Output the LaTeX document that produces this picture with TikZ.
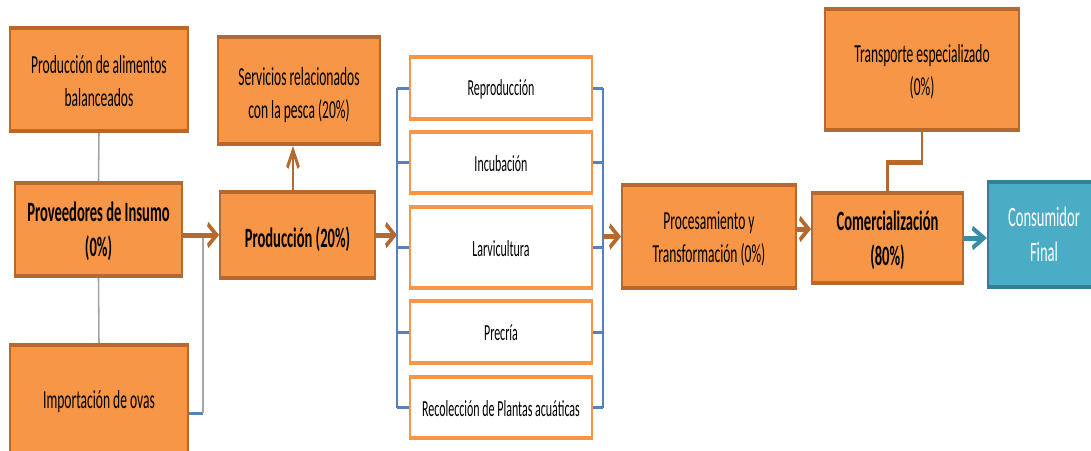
\documentclass[tikz,border=0pt]{standalone}
\usepackage{fontspec}
\setmainfont{Carlito}
\usetikzlibrary{arrows.meta,fit}

\definecolor{boxfill}{HTML}{F79646}
\definecolor{boxedge}{HTML}{B5692F}
\definecolor{tealfill}{HTML}{4BACC6}
\definecolor{tealedge}{HTML}{357F95}
\definecolor{tealline}{HTML}{3A8DA6}
\definecolor{bracketblue}{HTML}{5581BE}
\definecolor{linegray}{HTML}{A6A6A6}

\tikzset{
  % box shapes
  obox/.style={draw=boxedge, fill=boxfill, line width=4pt, inner sep=0pt},
  wbox/.style={draw=boxfill, fill=white, line width=4pt, inner sep=0pt},
  tbox/.style={draw=tealedge, fill=tealfill, line width=4pt, inner sep=0pt},
  % box captions
  otext/.style={align=center, text=black, inner sep=0pt, yshift=-2pt,
    font=\fontsize{26}{33}\selectfont},
  obtext/.style={align=center, text=black, inner sep=0pt, yshift=-2pt,
    font=\fontsize{28}{35}\selectfont\bfseries},
  wtext/.style={align=center, text=black, inner sep=0pt, yshift=-1pt,
    font=\fontsize{23}{29}\selectfont},
  ttext/.style={align=center, text=white, inner sep=0pt,
    font=\fontsize{28}{35}\selectfont},
  % connectors
  barrow/.style={draw=boxedge, line width=5pt,
    -{Straight Barb[length=17pt, width=22pt]}},
  brownline/.style={draw=boxedge, line width=5pt},
  tarrow/.style={draw=tealline, line width=5pt,
    -{Straight Barb[length=22pt, width=20pt]}},
  grayline/.style={draw=linegray, line width=3pt},
  blueline/.style={draw=bracketblue, line width=3pt},
}

\begin{document}
\begin{tikzpicture}[x=1pt, y=-1pt]
\useasboundingbox[fill=white] (0,0) rectangle (1091,450);
% the whole chart is drawn at double width and condensed horizontally
\begin{scope}[overlay, transform canvas={xscale=0.52}, x=1.923077pt]

  % supplier column
  \node[obox, fit={(10,28) (188,131)}] (alim) {};
  \node[obox, fit={(15,183) (182,276)}] (prov) {};
  \node[obox, fit={(10,345) (188,455)}] (imp) {};

  % production
  \node[obox, fit={(218,37) (380,144)}] (serv) {};
  \node[obox, fit={(220,192) (375,278)}] (prod) {};

  % production stages
  \node[wbox, fit={(410,57) (592,119)}] (rep) {};
  \node[wbox, fit={(410,132) (592,193)}] (inc) {};
  \node[wbox, fit={(410,207) (592,288)}] (larv) {};
  \node[wbox, fit={(410,301) (592,363)}] (prec) {};
  \node[wbox, fit={(410,377) (592,438)}] (rec) {};

  % downstream
  \node[obox, fit={(622,185) (796,288)}] (proc) {};
  \node[obox, fit={(812,193) (963,283)}] (com) {};
  \node[obox, fit={(825,9) (1019,130)}] (trans) {};
  \node[tbox, fit={(988,182) (1100,287)}] (cons) {};

  % captions
  \node[otext] (alim-t) at (alim.center)
    {Producción de alimentos\\balanceados};
  \node[obtext] (prov-t) at (prov.center) {Proveedores de Insumo\\(0\%)};
  \node[otext] (imp-t) at (imp.center) {Importación de ovas};
  \node[otext, yshift=-3pt] (serv-t) at (serv.center)
    {Servicios relacionados\\con la pesca (20\%)};
  \node[obtext, yshift=-2pt] (prod-t) at (prod.center) {Producción (20\%)};
  \node[wtext] (rep-t) at (rep.center) {Reproducción};
  \node[wtext] (inc-t) at (inc.center) {Incubación};
  \node[wtext] (larv-t) at (larv.center) {Larvicultura};
  \node[wtext] (prec-t) at (prec.center) {Precría};
  \node[wtext] (rec-t) at (rec.center) {Recolección de Plantas acuáticas};
  \node[otext] (proc-t) at (proc.center)
    {Procesamiento y\\Transformación (0\%)};
  \node[obtext] (com-t) at (com.center) {Comercialización\\(80\%)};
  \node[otext] (trans-t) at (trans.center)
    {Transporte especializado\\(0\%)};
  \node[ttext] (cons-t) at (cons.center) {Consumidor\\Final};

  % helper coordinates
  \coordinate (lx) at (397,0);
  \coordinate (rx) at (603,0);
  \coordinate (ux) at (293,0);
  \coordinate (ja) at (203,236);
  \coordinate (jb) at (203,413);
  \coordinate (mid) at (905,162);
  \coordinate (pa) at (800,229);

  % supplier links
  \draw[grayline] (alim.south) -- (prov.north);
  \draw[grayline] (prov.south) -- (imp.north);
  \draw[blueline] (imp.east |- jb) -- (jb);
  \draw[grayline] (jb) -- (ja);
  \draw[barrow] (prov.east |- prod.west) -- (prod.west);

  % production links
  \draw[barrow] (prod.north -| ux) -- (serv.south -| ux);
  \draw[barrow] (prod.east) -- (prod.east -| lx);

  % brackets around the stages
  \draw[blueline] (rep.west -| lx) -- (rec.west -| lx);
  \draw[blueline] (rep.east -| rx) -- (rec.east -| rx);
  \foreach \n in {rep,inc,larv,prec,rec} {
    \draw[blueline] (\n.west) -- (\n.west -| lx);
    \draw[blueline] (\n.east) -- (\n.east -| rx);
  }

  % downstream links
  \draw[barrow] (proc.west -| rx) -- (proc.west);
  \draw[barrow] (proc.east |- pa) -- (com.west |- pa);
  \draw[brownline] (trans.south) -- (trans.south |- mid)
    -- (com.north |- mid) -- (com.north);
  \draw[tarrow] (com.east) -- (cons.west |- com.east);

\end{scope}
\end{tikzpicture}
\end{document}
